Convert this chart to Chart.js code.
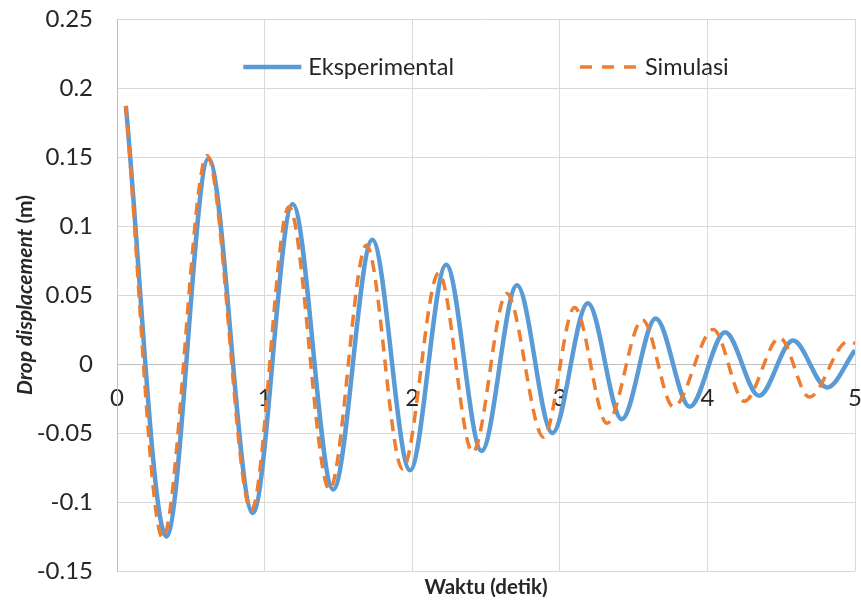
<!DOCTYPE html>
<html>
<head>
<meta charset="utf-8">
<script src="https://cdn.jsdelivr.net/npm/chart.js@4"></script>
<style>
  html, body { margin: 0; padding: 0; background: #fff; }
</style>
</head>
<body>
<canvas id="dropChart" width="861" height="603"></canvas>
<script>
// values at the turning points of each curve
const expTime = [0.06, 0.335, 0.62, 0.92, 1.19, 1.465, 1.73, 1.985, 2.23, 2.47, 2.71, 2.95, 3.19, 3.42, 3.65, 3.88, 4.12, 4.35, 4.58, 4.81, 5.0];
const expDisp = [0.187, -0.125, 0.149, -0.108, 0.116, -0.091, 0.090, -0.077, 0.072, -0.063, 0.057, -0.050, 0.044, -0.040, 0.033, -0.031, 0.023, -0.023, 0.017, -0.017, 0.010];

const simTime = [0.06, 0.31, 0.61, 0.91, 1.165, 1.44, 1.69, 1.935, 2.18, 2.41, 2.64, 2.89, 3.10, 3.32, 3.56, 3.77, 4.04, 4.25, 4.49, 4.69, 4.95, 5.0];
const simDisp = [0.187, -0.126, 0.151, -0.106, 0.114, -0.091, 0.086, -0.076, 0.066, -0.064, 0.051, -0.053, 0.041, -0.043, 0.032, -0.031, 0.025, -0.027, 0.019, -0.024, 0.016, 0.015];

const xTicks = [0, 1, 2, 3, 4, 5];
const yTicks = [-0.15, -0.1, -0.05, 0, 0.05, 0.1, 0.15, 0.2, 0.25];

const xTitle = "Waktu (detik)";
const yTitleItalic = "Drop displacement";
const yTitleRest = " (m)";

const textColor = "#262626";
const fontFamily = "Lato, 'Open Sans', sans-serif";

function toPoints(xs, ys) {
    return xs.map((x, i) => ({ x: x, y: ys[i] }));
}

// axis titles and the legend sit inside / around the plot like the Excel original
const overlayText = {
    id: "overlayText",
    afterDraw(chart) {
        const ctx = chart.ctx;
        const area = chart.chartArea;
        const midX = (area.left + area.right) / 2;
        const midY = (area.top + area.bottom) / 2;

        ctx.save();
        ctx.fillStyle = textColor;
        ctx.textBaseline = "middle";

        // x title
        ctx.font = "bold 20.5px " + fontFamily;
        ctx.textAlign = "center";
        ctx.fillText(xTitle, midX, 587);

        // y title, italic part + plain part
        ctx.save();
        ctx.translate(25, midY);
        ctx.rotate(-Math.PI / 2);
        const f1 = "italic bold 21px " + fontFamily;
        const f2 = "bold 21px " + fontFamily;
        ctx.font = f1;
        const w1 = ctx.measureText(yTitleItalic).width;
        ctx.font = f2;
        const w2 = ctx.measureText(yTitleRest).width;
        ctx.textAlign = "left";
        ctx.font = f1;
        ctx.fillText(yTitleItalic, -(w1 + w2) / 2, 0);
        ctx.font = f2;
        ctx.fillText(yTitleRest, -(w1 + w2) / 2 + w1, 0);
        ctx.restore();

        // legend
        const sets = [chart.data.datasets[1], chart.data.datasets[0]];
        const sampleLen = 58, sampleGap = 7, itemGap = 126;
        ctx.font = "23.5px " + fontFamily;
        const widths = sets.map(ds => sampleLen + sampleGap + ctx.measureText(ds.label).width);
        let x = midX - (widths[0] + widths[1] + itemGap) / 2;
        const y = 67;
        sets.forEach((ds, i) => {
            ctx.beginPath();
            ctx.strokeStyle = ds.borderColor;
            ctx.lineWidth = ds.borderWidth;
            ctx.setLineDash(ds.borderDash ? [12, 10] : []);
            ctx.moveTo(x, y);
            ctx.lineTo(x + sampleLen, y);
            ctx.stroke();
            ctx.setLineDash([]);
            ctx.textAlign = "left";
            ctx.fillText(ds.label, x + sampleLen + sampleGap, y);
            x += widths[i] + itemGap;
        });
        ctx.restore();
    }
};

var ctx = document.getElementById("dropChart").getContext("2d");
var dropChart = new Chart(ctx, {
    type: "line",
    data: {
        datasets: [
            {
                label: "Simulasi",
                data: toPoints(simTime, simDisp),
                borderColor: "#ED7D31",
                borderWidth: 3.5,
                borderDash: [12, 8],
                pointRadius: 0,
                fill: false,
                cubicInterpolationMode: "monotone",
                order: 0,
            },
            {
                label: "Eksperimental",
                data: toPoints(expTime, expDisp),
                borderColor: "#5B9BD5",
                borderWidth: 4.5,
                pointRadius: 0,
                fill: false,
                cubicInterpolationMode: "monotone",
                order: 1,
            },
        ],
    },
    options: {
        responsive: false,
        animation: false,
        layout: { padding: { left: 0, top: 19, right: 6, bottom: 32 } },
        plugins: {
            legend: { display: false },
            tooltip: { enabled: false },
        },
        scales: {
            x: {
                type: "linear",
                min: 0,
                max: 5,
                position: { y: 0 },
                afterBuildTicks: (s) => { s.ticks = xTicks.map(v => ({ value: v })); },
                afterFit: (s) => { s.height = 0; s.paddingLeft = 0; s.paddingRight = 0; },
                grid: { color: "#D9D9D9", drawTicks: false },
                border: { color: "#BFBFBF" },
                ticks: {
                    padding: 20,
                    maxRotation: 0,
                    autoSkip: false,
                    color: textColor,
                    font: { family: fontFamily, size: 24 },
                    callback: (v) => String(v),
                },
            },
            y: {
                min: -0.15,
                max: 0.25,
                afterBuildTicks: (s) => { s.ticks = yTicks.map(v => ({ value: v })); },
                afterFit: (s) => { s.width = 117; s.paddingTop = 0; s.paddingBottom = 0; },
                grid: { color: "#D9D9D9", drawTicks: false },
                border: { color: "#BFBFBF" },
                ticks: {
                    padding: 24,
                    color: textColor,
                    font: { family: fontFamily, size: 24 },
                    callback: (v) => String(v),
                },
            },
        },
    },
    plugins: [overlayText],
});
</script>
</body>
</html>
